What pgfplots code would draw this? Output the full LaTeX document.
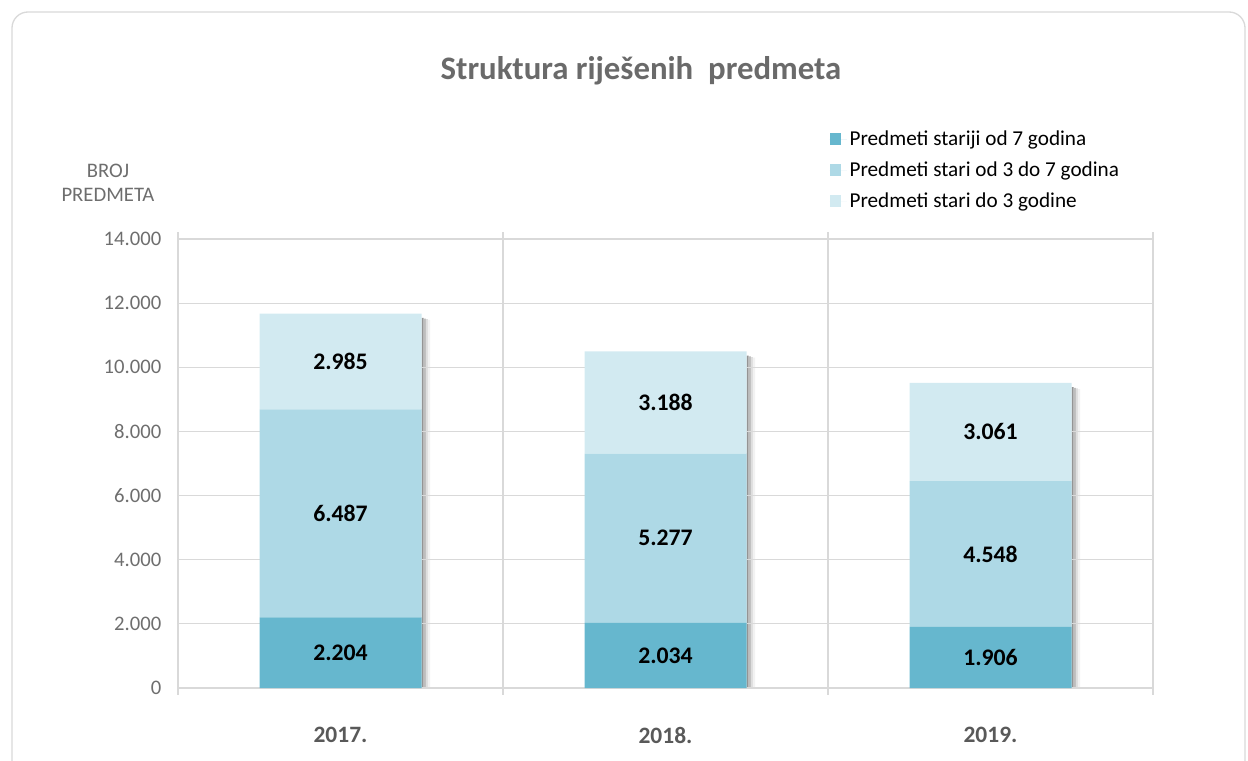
\documentclass[border=0pt]{standalone}
\usepackage{pgfplots}
\pgfplotsset{compat=1.18}
\usepackage{fontspec}
\setmainfont{Carlito}
\definecolor{c1}{RGB}{102,183,206}
\definecolor{c2}{RGB}{174,217,230}
\definecolor{c3}{RGB}{210,234,241}
\definecolor{gridc}{RGB}{217,217,217}
\definecolor{txtgray}{RGB}{89,89,89}
\definecolor{lblgray}{RGB}{110,110,110}
\pgfplotsset{
  base/.style={at={(133.5pt,54pt)}, anchor=south west, scale only axis,
    width=731.25pt, height=336.75pt, xmin=-0.5, xmax=2.5, ymin=0, ymax=14000},
  sq/.style={legend image code/.code={\fill[##1] (0pt,-4.2pt) rectangle (8.8pt,4.6pt); \path (0pt,0pt) -- (13pt,0pt);}},
  shd/.style={ybar, bar width=1.6pt, draw=none, forget plot}
}
\begin{document}
\begin{tikzpicture}[x=0.75pt,y=0.75pt]
\useasboundingbox (0,0) rectangle (1248,760);
\begin{scope}
\clip (0,0) rectangle (1248,760);
\draw[gridc, line width=1pt, rounded corners=12pt] (12,748) rectangle (1245,-40);
\end{scope}
\node[font=\bfseries\fontsize{24.6}{28}\selectfont, text=txtgray!90] at (641,689) {Struktura riješenih\ \ predmeta};
\node[font=\fontsize{15.5}{18}\selectfont, text=lblgray, align=center] at (108,577) {BROJ\\PREDMETA};
% shadows
\begin{axis}[base, hide axis]
\addplot[shd, bar shift=61.55pt, fill=black!42] coordinates {(0,11540) (1,10360) (2,9380)};
\addplot[shd, bar shift=63.15pt, fill=black!26] coordinates {(0,11520) (1,10340) (2,9360)};
\addplot[shd, bar shift=64.75pt, fill=black!13] coordinates {(0,11500) (1,10320) (2,9340)};
\addplot[shd, bar shift=66.35pt, fill=black!5] coordinates {(0,11480) (1,10300) (2,9320)};
\end{axis}
% bars
\begin{axis}[base, ybar stacked, bar width=121.5pt,
  axis line style={gridc, line width=0.8pt},
  ymajorgrids, major grid style={gridc, line width=0.8pt},
  ytick={0,2000,...,14000}, scaled y ticks=false,
  yticklabel style={font=\fontsize{15.5}{18}\selectfont, text=lblgray, xshift=-9pt,
    /pgf/number format/.cd, fixed, 1000 sep={.}, assume math mode=true},
  xtick={0,1,2}, xticklabels={2017.,2018.,2019.},
  xticklabel style={font=\bfseries\fontsize{17.6}{19}\selectfont, text=txtgray, yshift=-26pt},
  minor xtick={-0.5,0.5,1.5,2.5}, xminorgrids, minor grid style={gridc, line width=0.8pt},
  tick align=outside, major tick length=0pt, minor tick length=5pt,
  tick style={gridc, line width=0.8pt},
  legend style={at={(0.668,1.247)}, anchor=north west, draw=none, fill=none,
    font=\fontsize{15.9}{18}\selectfont, row sep=6.6pt, inner sep=0pt},
  legend cell align=left,
]
\addplot[fill=c1, draw=none, sq] coordinates {(0,2204) (1,2034) (2,1906)};
\addlegendentry{Predmeti stariji od 7 godina}
\addplot[fill=c2, draw=none, sq] coordinates {(0,6487) (1,5277) (2,4548)};
\addlegendentry{Predmeti stari od 3 do 7 godina}
\addplot[fill=c3, draw=none, sq] coordinates {(0,2985) (1,3188) (2,3061)};
\addlegendentry{Predmeti stari do 3 godine}
\end{axis}
% labels
\begin{axis}[base, hide axis, nodes near coords, point meta=explicit symbolic,
  every node near coord/.style={anchor=center, font=\bfseries\fontsize{17.8}{19}\selectfont, text=black}]
\addplot[only marks, mark=none] coordinates {
 (0,1102)[2.204] (0,5447.5)[6.487] (0,10183.5)[2.985]
 (1,1017)[2.034] (1,4672.5)[5.277] (1,8905)[3.188]
 (2,953)[1.906] (2,4180)[4.548] (2,7984.5)[3.061]};
\end{axis}
\end{tikzpicture}
\end{document}
